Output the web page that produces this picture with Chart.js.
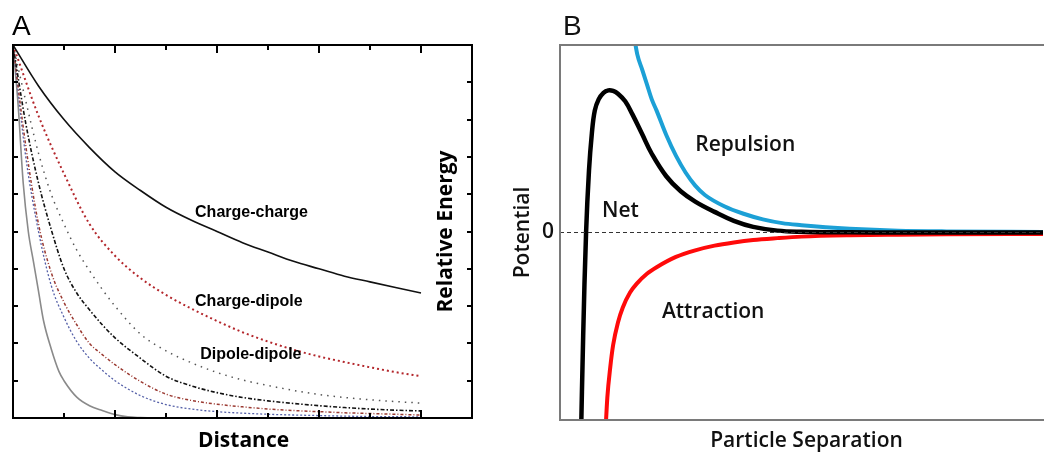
<!DOCTYPE html>
<html>
<head>
<meta charset="utf-8">
<script src="https://cdn.jsdelivr.net/npm/chart.js@4.4.1/dist/chart.umd.min.js"></script>
<style>
  html, body { margin: 0; padding: 0; background: #fff; }
  #wrap { position: relative; width: 1044px; height: 454px; overflow: hidden; }
  canvas { position: absolute; top: 0; }
  #chartA { left: 0; }
  #chartB { left: 500px; }
</style>
</head>
<body>
<div id="wrap">
  <canvas id="chartA" width="500" height="454"></canvas>
  <canvas id="chartB" width="544" height="454"></canvas>
</div>
<script>
// ---- Panel A: relative energy against distance ----
const distCoarse = [0, 0.5, 1, 1.5, 2, 2.5, 3, 3.5, 4, 4.5, 5, 5.5, 6, 6.5, 7, 7.5, 8];
const distFine = [0, 0.25, 0.5, 0.75, 1, 1.25, 1.5, 1.75, 2, 2.5, 3, 3.5, 4, 4.5, 5, 5.5, 6, 6.5, 7, 7.5, 8];
const distShort = [0, 0.1, 0.2, 0.3, 0.4, 0.5, 0.6, 0.75, 0.9, 1, 1.25, 1.5, 1.75, 2, 2.25, 2.5, 2.7];

const chargeCharge = [10, 8.9, 8.0, 7.25, 6.6, 6.1, 5.65, 5.3, 5.0, 4.7, 4.45, 4.2, 4.0, 3.8, 3.65, 3.5, 3.35];
const chargeDipole = [10, 8.1, 6.55, 5.2, 4.35, 3.75, 3.3, 2.93, 2.6, 2.3, 2.05, 1.83, 1.65, 1.5, 1.36, 1.23, 1.12];
const dipoleDipole = [10, 8.5, 7.1, 6.0, 5.2, 4.5, 3.95, 3.45, 3.0, 2.25, 1.8, 1.48, 1.22, 1.02, 0.87, 0.74, 0.63, 0.55, 0.49, 0.44, 0.4];
const seriesD = [10, 7.9, 6.3, 5.05, 4.0, 3.35, 2.9, 2.5, 2.15, 1.6, 1.12, 0.86, 0.68, 0.55, 0.46, 0.39, 0.33, 0.28, 0.24, 0.21, 0.19];
const seriesE = [10, 7.3, 5.2, 3.9, 3.1, 2.5, 2.0, 1.7, 1.43, 0.98, 0.64, 0.47, 0.37, 0.3, 0.24, 0.2, 0.17, 0.14, 0.12, 0.1, 0.08];
const seriesF = [10, 7.0, 5.0, 3.55, 2.7, 2.05, 1.6, 1.28, 1.0, 0.6, 0.36, 0.24, 0.17, 0.13, 0.1, 0.08, 0.065, 0.05, 0.04, 0.035, 0.03];
const seriesG = [10, 8.4, 6.3, 5.0, 4.2, 3.4, 2.6, 1.85, 1.25, 1.0, 0.56, 0.33, 0.2, 0.09, 0.03, 0.01, 0];

const xTicksA = [0, 1, 2, 3, 4, 5, 6, 7, 8, 9];
const yTicksA = [0, 1, 2, 3, 4, 5, 6, 7, 8, 9, 10];

// ---- Panel B: potential against particle separation ----
const sepRepulsion = [1.5, 1.6, 1.7, 1.8, 1.9, 2.0, 2.2, 2.4, 2.6, 2.8, 3.0, 3.4, 3.8, 4.2, 4.6, 5.0, 5.5, 6.0, 7.0, 8.0, 10];
const repulsion = [1.1, 0.95, 0.87, 0.79, 0.71, 0.65, 0.52, 0.41, 0.32, 0.25, 0.2, 0.14, 0.1, 0.07, 0.05, 0.039, 0.028, 0.02, 0.01, 0.006, 0.003];
const sepAttraction = [0.93, 0.98, 1.04, 1.1, 1.2, 1.3, 1.45, 1.6, 1.8, 2.0, 2.4, 2.8, 3.2, 3.6, 4.0, 4.5, 5, 6, 7, 8, 10];
const attraction = [-1.12, -0.88, -0.72, -0.6, -0.48, -0.40, -0.32, -0.27, -0.22, -0.185, -0.13, -0.095, -0.07, -0.053, -0.04, -0.03, -0.022, -0.015, -0.012, -0.01, -0.008];
const sepNet = [0.43, 0.48, 0.54, 0.6, 0.66, 0.72, 0.8, 0.9, 1.0, 1.1, 1.2, 1.35, 1.5, 1.7, 1.9, 2.2, 2.5, 2.8, 3.2, 3.6, 4.0, 4.5, 5, 6, 7, 8, 10];
const net = [-1.15, -0.55, 0, 0.33, 0.53, 0.65, 0.71, 0.745, 0.758, 0.755, 0.74, 0.70, 0.63, 0.525, 0.42, 0.30, 0.22, 0.165, 0.11, 0.062, 0.03, 0.01, 0.004, 0.001, 0, 0, 0];
const sepZero = [0, 10];
const zeroLine = [0, 0];

function pts(xs, ys) {
  return xs.map((x, i) => ({ x: x, y: ys[i] }));
}

function lineSet(label, xs, ys, color, width, dash) {
  return {
    label: label,
    data: pts(xs, ys),
    borderColor: color,
    borderWidth: width,
    borderDash: dash || [],
    pointRadius: 0,
    fill: false,
    cubicInterpolationMode: 'monotone'
  };
}

const labelsA = [
  { text: 'Charge-charge', x: 3.57, y: 5.52 },
  { text: 'Charge-dipole', x: 3.57, y: 3.11 },
  { text: 'Dipole-dipole', x: 3.67, y: 1.69 }
];

const labelsB = [
  { text: 'Repulsion', x: 2.8, y: 0.467 },
  { text: 'Net', x: 0.87, y: 0.115 },
  { text: 'Attraction', x: 2.11, y: -0.424 }
];

const decorA = {
  id: 'decorA',
  afterDraw(chart) {
    const { ctx, chartArea: a, scales: { x, y } } = chart;
    ctx.save();
    ctx.strokeStyle = '#000';
    ctx.lineWidth = 2;
    ctx.strokeRect(a.left, a.top, a.right - a.left, a.bottom - a.top);
    ctx.beginPath();
    xTicksA.forEach(v => {
      const px = Math.round(x.getPixelForValue(v));
      const len = v % 2 === 0 ? 8 : 5;
      ctx.moveTo(px, a.bottom); ctx.lineTo(px, a.bottom - len);
      ctx.moveTo(px, a.top); ctx.lineTo(px, a.top + len);
    });
    yTicksA.forEach(v => {
      const py = Math.round(y.getPixelForValue(v));
      ctx.moveTo(a.left, py); ctx.lineTo(a.left + 5, py);
      ctx.moveTo(a.right, py); ctx.lineTo(a.right - 5, py);
    });
    ctx.stroke();

    ctx.fillStyle = '#000';
    ctx.textBaseline = 'middle';
    ctx.textAlign = 'left';
    ctx.font = 'bold 16px "Liberation Sans", Arial, sans-serif';
    labelsA.forEach(l => {
      ctx.fillText(l.text, x.getPixelForValue(l.x), y.getPixelForValue(l.y));
    });

    ctx.font = 'bold 21px "Open Sans", sans-serif';
    ctx.textAlign = 'center';
    ctx.fillText('Distance', (a.left + a.right) / 2 + 1, 441);
    ctx.save();
    ctx.translate(446, (a.top + a.bottom) / 2);
    ctx.rotate(-Math.PI / 2);
    ctx.fillText('Relative Energy', 0, 0);
    ctx.restore();

    ctx.textAlign = 'left';
    ctx.textBaseline = 'alphabetic';
    ctx.font = '28px "Liberation Sans", Arial, sans-serif';
    ctx.fillText('A', 12, 35);
    ctx.restore();
  }
};

const decorB = {
  id: 'decorB',
  afterDraw(chart) {
    const { ctx, chartArea: a, scales: { x, y } } = chart;
    ctx.save();
    ctx.strokeStyle = '#7a7a7a';
    ctx.lineWidth = 2;
    ctx.beginPath();
    ctx.moveTo(chart.width, a.top);
    ctx.lineTo(a.left, a.top);
    ctx.lineTo(a.left, a.bottom);
    ctx.lineTo(chart.width, a.bottom);
    ctx.stroke();

    ctx.fillStyle = '#111';
    ctx.font = '600 21px "Open Sans", sans-serif';
    ctx.textBaseline = 'middle';
    ctx.textAlign = 'left';
    labelsB.forEach(l => {
      ctx.fillText(l.text, x.getPixelForValue(l.x), y.getPixelForValue(l.y));
    });

    ctx.textAlign = 'right';
    ctx.fillText('0', a.left - 6, y.getPixelForValue(0));

    ctx.textAlign = 'center';
    ctx.fillText('Particle Separation', (a.left + a.right) / 2 + 5, 441);
    ctx.save();
    ctx.translate(23, (a.top + a.bottom) / 2);
    ctx.rotate(-Math.PI / 2);
    ctx.fillText('Potential', 0, 0);
    ctx.restore();

    ctx.textAlign = 'left';
    ctx.textBaseline = 'alphabetic';
    ctx.font = '28px "Liberation Sans", Arial, sans-serif';
    ctx.fillText('B', 63, 35);
    ctx.restore();
  }
};

const baseOptions = {
  responsive: false,
  animation: false,
  devicePixelRatio: 1,
  plugins: { legend: { display: false }, tooltip: { enabled: false } },
  elements: { point: { radius: 0 } }
};

// the net curve has a rounded peak, so it uses plain bezier smoothing
const netSet = lineSet('Net', sepNet, net, '#000', 4.5);
netSet.cubicInterpolationMode = 'default';
netSet.tension = 0.4;

new Chart(document.getElementById('chartA').getContext('2d'), {
  type: 'line',
  data: {
    datasets: [
      lineSet('Charge-charge', distCoarse, chargeCharge, '#111', 1.6),
      lineSet('Charge-dipole', distCoarse, chargeDipole, '#b3262b', 2, [2, 3]),
      lineSet('Dipole-dipole', distFine, dipoleDipole, '#555', 1.5, [1.5, 5]),
      lineSet('D', distFine, seriesD, '#111', 1.6, [4, 2, 1.5, 2]),
      lineSet('E', distFine, seriesE, '#9b3a32', 1.5, [3, 2, 1, 2]),
      lineSet('F', distFine, seriesF, '#5560a8', 1.3, [2, 2]),
      lineSet('G', distShort, seriesG, '#8a8a8a', 1.6)
    ]
  },
  options: Object.assign({}, baseOptions, {
    layout: { padding: { left: 13, top: 45, right: 28, bottom: 36 } },
    scales: {
      x: { type: 'linear', min: 0, max: 9, display: false },
      y: { type: 'linear', min: 0, max: 10, display: false }
    }
  }),
  plugins: [decorA]
});

new Chart(document.getElementById('chartB').getContext('2d'), {
  type: 'line',
  data: {
    datasets: [
      lineSet('zero', sepZero, zeroLine, '#333', 1, [4, 3]),
      netSet,
      lineSet('Attraction', sepAttraction, attraction, '#ff0a0a', 4),
      lineSet('Repulsion', sepRepulsion, repulsion, '#1ca0d6', 4)
    ]
  },
  options: Object.assign({}, baseOptions, {
    layout: { padding: { left: 60, top: 45, right: 1, bottom: 34 } },
    scales: {
      x: { type: 'linear', min: 0, max: 10, display: false },
      y: { type: 'linear', min: -1, max: 1, display: false }
    }
  }),
  plugins: [decorB]
});
</script>
</body>
</html>
